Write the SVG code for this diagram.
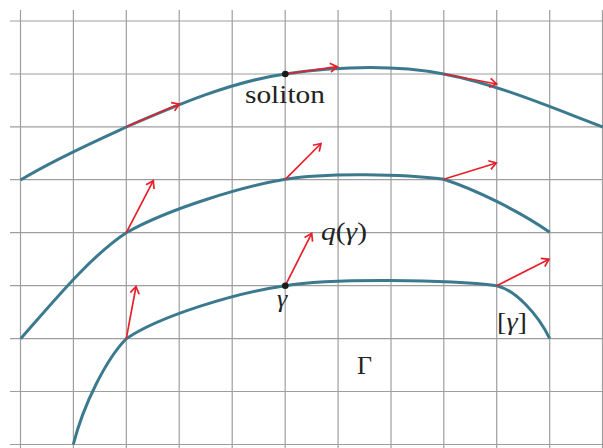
<svg xmlns="http://www.w3.org/2000/svg" width="603" height="448" viewBox="0 0 603 448">
<style>
.grid line{stroke:#9e9e9e;stroke-width:1.2}
.curve{fill:none;stroke:#3b7a8e;stroke-width:3;stroke-linecap:butt}
.arrow{stroke:#e8202a;stroke-width:1.7;fill:none;marker-end:url(#ah)}
.dot{fill:#1a1a1a}
text{font-family:"Liberation Serif","DejaVu Serif",serif;fill:#222;font-size:26px}
.it{font-style:italic}
</style>
<defs>
<marker id="ah" viewBox="-9 -6 11 12" refX="0" refY="0" markerWidth="11" markerHeight="12" markerUnits="userSpaceOnUse" orient="auto">
<path d="M-7,-4.5 L0,0 L-7,4.5" fill="none" stroke="#e8202a" stroke-width="1.7"/>
</marker>
</defs>
<rect width="603" height="448" fill="#fff"/>
<g id="grid" class="grid">
<line x1="20.5" y1="10" x2="20.5" y2="448"/>
<line x1="73.4" y1="10" x2="73.4" y2="448"/>
<line x1="126.3" y1="10" x2="126.3" y2="448"/>
<line x1="179.2" y1="10" x2="179.2" y2="448"/>
<line x1="232.2" y1="10" x2="232.2" y2="448"/>
<line x1="285.2" y1="10" x2="285.2" y2="448"/>
<line x1="338.1" y1="10" x2="338.1" y2="448"/>
<line x1="391" y1="10" x2="391" y2="448"/>
<line x1="443.8" y1="10" x2="443.8" y2="448"/>
<line x1="496.7" y1="10" x2="496.7" y2="448"/>
<line x1="549.7" y1="10" x2="549.7" y2="448"/>
<line x1="602.5" y1="10" x2="602.5" y2="448"/>
<line x1="10" y1="21" x2="603" y2="21"/>
<line x1="10" y1="74" x2="603" y2="74"/>
<line x1="10" y1="126.8" x2="603" y2="126.8"/>
<line x1="10" y1="179.7" x2="603" y2="179.7"/>
<line x1="10" y1="232.7" x2="603" y2="232.7"/>
<line x1="10" y1="285.7" x2="603" y2="285.7"/>
<line x1="10" y1="338.7" x2="603" y2="338.7"/>
<line x1="10" y1="391.5" x2="603" y2="391.5"/>
<line x1="10" y1="444.5" x2="603" y2="444.5"/>
</g>
<g id="connectors">
<path id="curve-soliton" class="curve" d="M20.5,180 C55,159 100,139 126.3,127 C179.3,104 232.3,81.5 285.3,74 C338.3,66.5 390.7,64 443.7,74 C496.7,84 550,107 603,127"/>
<path id="curve-middle" class="curve" d="M20.7,338.7 C55.7,298.7 91.3,255.7 126.3,232.7 C170,208 245,186 285.3,179.3 C325.3,172.5 405,174 443.7,179.3 C473.7,189 519.7,211 549.7,232.3"/>
<path id="curve-gamma" class="curve" d="M73.3,444.5 C83.3,405 106.3,358.7 126.3,338.7 C160,316 235,293 285.3,285.7 C330.3,278 450,279.5 496.7,285.7 C515,290 538,314 549.7,338.7"/>
<line class="arrow" x1="126.3" y1="126.7" x2="179.3" y2="104"/>
<line class="arrow" x1="285.3" y1="74" x2="337.3" y2="66.7"/>
<line class="arrow" x1="443.7" y1="74" x2="496.7" y2="84"/>
<line class="arrow" x1="126.3" y1="232.7" x2="153.3" y2="180.7"/>
<line class="arrow" x1="285.3" y1="179.3" x2="321" y2="143.5"/>
<line class="arrow" x1="443.7" y1="179.3" x2="496.3" y2="163"/>
<line class="arrow" x1="126.3" y1="338.7" x2="136" y2="286.5"/>
<line class="arrow" x1="285.3" y1="285.7" x2="311.7" y2="233.3"/>
<line class="arrow" x1="496.7" y1="285.7" x2="549" y2="259.3"/>
</g>
<g id="soliton">
<circle class="dot" cx="285.3" cy="74" r="3.3"/>
<text x="245" y="103" font-size="25" textLength="80" lengthAdjust="spacingAndGlyphs">soliton</text>
</g>
<g id="gamma">
<circle class="dot" cx="285.3" cy="285.7" r="3.3"/>
<text class="it" x="277" y="307">γ</text>
</g>
<g id="q-gamma">
<text x="321" y="240" textLength="46" lengthAdjust="spacingAndGlyphs"><tspan class="it">q</tspan>(<tspan class="it">γ</tspan>)</text>
</g>
<g id="Gamma">
<text x="357" y="374">Γ</text>
</g>
<g id="gamma-class">
<text x="497" y="330" textLength="30" lengthAdjust="spacingAndGlyphs">[<tspan class="it">γ</tspan>]</text>
</g>
</svg>
